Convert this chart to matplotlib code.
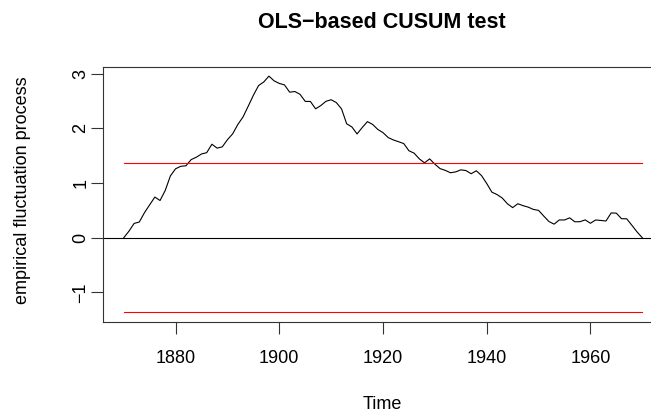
import numpy as np
import matplotlib
matplotlib.use("Agg")
import matplotlib.pyplot as plt

plt.rcParams['font.family'] = ['Liberation Sans', 'DejaVu Sans']

# OLS-based CUSUM empirical fluctuation process (Nile), 1870..1970
years = np.arange(1870, 1971)
efp = [0.000,
       0.119, 0.261, 0.287, 0.458, 0.601, 0.743, 0.680, 0.863, 1.130, 1.260,
       1.305, 1.314, 1.427, 1.471, 1.530, 1.554, 1.708, 1.637, 1.660, 1.791,
       1.897, 2.069, 2.205, 2.401, 2.602, 2.780, 2.845, 2.952, 2.866, 2.819,
       2.792, 2.659, 2.671, 2.620, 2.491, 2.489, 2.355, 2.414, 2.492, 2.521,
       2.469, 2.354, 2.081, 2.024, 1.896, 2.014, 2.121, 2.070, 1.978, 1.920,
       1.830, 1.786, 1.754, 1.720, 1.589, 1.545, 1.441, 1.368, 1.440, 1.345,
       1.263, 1.231, 1.187, 1.202, 1.240, 1.227, 1.169, 1.223, 1.135, 0.991,
       0.832, 0.788, 0.725, 0.620, 0.550, 0.621, 0.586, 0.559, 0.517, 0.500,
       0.396, 0.296, 0.248, 0.325, 0.324, 0.363, 0.291, 0.293, 0.326, 0.264,
       0.324, 0.316, 0.305, 0.453, 0.449, 0.347, 0.346, 0.227, 0.106, 0.000]
boundary = 1.358
xticks = [1880, 1900, 1920, 1940, 1960]
yticks = [-1, 0, 1, 2, 3]

W, H = 651, 416
fig = plt.figure(figsize=(W / 100, H / 100), dpi=100)
left, right, top, bottom = 103, 663, 66.7, 321.5
ax = fig.add_axes([left / W, 1 - bottom / H, (right - left) / W, (bottom - top) / H])

ax.plot(years, efp, color='black', lw=0.8)
ax.plot([years[0], years[-1]], [boundary, boundary], color='red', lw=0.8)
ax.plot([years[0], years[-1]], [-boundary, -boundary], color='red', lw=0.8)
ax.axhline(0, color='black', lw=0.8)

ymin, ymax = -boundary, max(efp)
yr = ymax - ymin
ax.set_xlim(years[0] - 4, years[-1] + 4)
ax.set_ylim(ymin - 0.04 * yr, ymax + 0.04 * yr)

ax.set_xticks(xticks)
ax.set_xticklabels([str(t) for t in xticks])
ax.set_yticks(yticks)
ax.set_yticklabels(['\u22121', '0', '1', '2', '3'], rotation=90, va='center')
ax.tick_params(axis='both', length=8.3, width=0.8, labelsize=13, color='#333333')
ax.tick_params(axis='x', pad=12.5)
ax.tick_params(axis='y', pad=1.5)
for s in ax.spines.values():
    s.set_linewidth(0.8)
    s.set_color('#333333')

fig.text(382 / W, 1 - 28 / H, 'OLS\u2212based CUSUM test', ha='center', va='baseline',
         fontsize=15.5, fontweight='bold')
fig.text(382 / W, 1 - 409 / H, 'Time', ha='center', va='baseline', fontsize=13)
fig.text(27 / W, 1 - 190 / H, 'empirical fluctuation process', rotation=90,
         rotation_mode='anchor', ha='center', va='baseline', fontsize=13)

fig.savefig('out.png', dpi=100)
